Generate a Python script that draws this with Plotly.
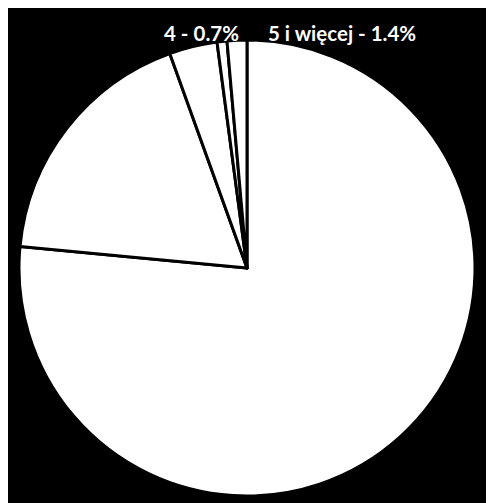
import plotly.graph_objs as go

# Share of households by number of members
categories = ["1", "2", "3", "4", "5 i więcej"]
shares = [76.5, 18.0, 3.4, 0.7, 1.4]

# Text for each slice; the first three sit in white on white slices
slice_labels = [f"{c} - {v:.1f}%" for c, v in zip(categories, shares)]

fig = go.Figure()

fig.add_trace(
    go.Pie(
        labels=categories,
        values=shares,
        sort=False,
        direction="clockwise",
        rotation=0,
        marker=dict(colors=["white"] * len(shares), line=dict(color="black", width=3)),
        text=slice_labels[:3] + ["", ""],
        textinfo="text",
        textposition="inside",
        insidetextfont=dict(color="white", family="Lato", size=20),
        hoverinfo="label+percent",
        showlegend=False,
    )
)

# The two small slices get their labels above the pie
fig.add_annotation(
    text=f"<b>{slice_labels[3]}</b>", x=0.487, y=1.015, xref="paper", yref="paper",
    xanchor="right", yanchor="middle", showarrow=False,
    font=dict(color="white", family="Lato", size=20.5),
)
fig.add_annotation(
    text=f"<b>{slice_labels[4]}</b>", x=0.542, y=1.015, xref="paper", yref="paper",
    xanchor="left", yanchor="middle", showarrow=False,
    font=dict(color="white", family="Lato", size=20.5),
)

fig.update_layout(
    width=494,
    height=503,
    paper_bgcolor="black",
    plot_bgcolor="black",
    margin=dict(l=11, r=27, t=32, b=15),
)

fig.write_html("out.html")
